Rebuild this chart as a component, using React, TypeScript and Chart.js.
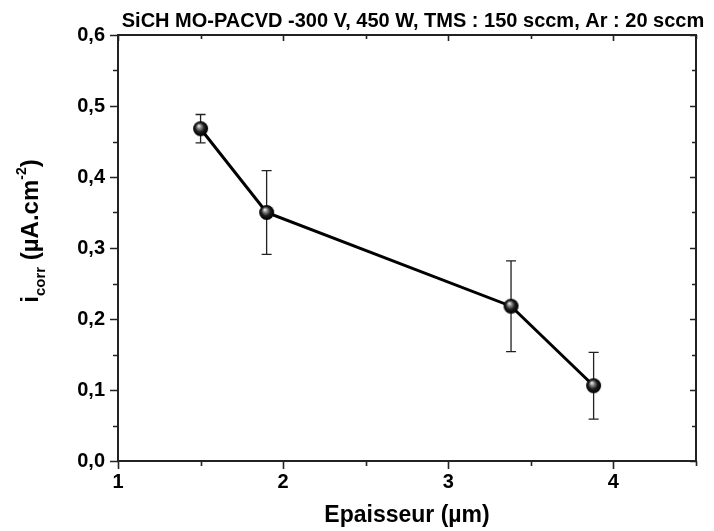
import React, { useEffect, useRef } from 'react';
import { Chart, registerables } from 'chart.js';

Chart.register(...registerables);

// ---- data ----
const thickness = [1.5, 1.9, 3.38, 3.88];
const icorr = [0.468, 0.35, 0.218, 0.106];
const icorrErr = [0.02, 0.059, 0.064, 0.047];

const chartTitle = 'SiCH MO-PACVD -300 V, 450 W, TMS : 150 sccm, Ar : 20 sccm';
const xTitle = 'Epaisseur (\u00b5m)';
const yTitleParts = [
  { text: 'i', kind: 'main' },
  { text: 'corr', kind: 'sub' },
  { text: ' (\u00b5A.cm', kind: 'main' },
  { text: '-2', kind: 'sup' },
  { text: ')', kind: 'main' },
];

const xMin = 1;
const xMax = 4.5;
const yMin = 0;
const yMax = 0.6;

const FONT = '"Liberation Sans", Arial, Helvetica, sans-serif';

function makeSphere(r: number): HTMLCanvasElement {
  const c = document.createElement('canvas');
  const s = r * 2 + 2;
  c.width = s;
  c.height = s;
  const g = c.getContext('2d')!;
  const cx = s / 2;
  const cy = s / 2;
  const grad = g.createRadialGradient(cx - r * 0.25, cy - r * 0.4, 0.3, cx, cy, r);
  grad.addColorStop(0, '#f0f0f0');
  grad.addColorStop(0.25, '#8a8a8a');
  grad.addColorStop(0.6, '#1a1a1a');
  grad.addColorStop(1, '#000');
  g.fillStyle = grad;
  g.beginPath();
  g.arc(cx, cy, r, 0, Math.PI * 2);
  g.fill();
  return c;
}

const errorBarPlugin = {
  id: 'errorBars',
  beforeDatasetsDraw(chart: any) {
    const { ctx, scales } = chart;
    const x = scales.x;
    const y = scales.y;
    ctx.save();
    ctx.strokeStyle = '#222';
    ctx.lineWidth = 1.3;
    for (let i = 0; i < thickness.length; i++) {
      const px = x.getPixelForValue(thickness[i]);
      const top = y.getPixelForValue(icorr[i] + icorrErr[i]);
      const bot = y.getPixelForValue(icorr[i] - icorrErr[i]);
      ctx.beginPath();
      ctx.moveTo(px, top);
      ctx.lineTo(px, bot);
      ctx.moveTo(px - 5, top);
      ctx.lineTo(px + 5, top);
      ctx.moveTo(px - 5, bot);
      ctx.lineTo(px + 5, bot);
      ctx.stroke();
    }
    ctx.restore();
  },
};

const framePlugin = {
  id: 'frame',
  afterDraw(chart: any) {
    const { ctx, chartArea: a, scales } = chart;
    const x = scales.x;
    const y = scales.y;
    ctx.save();
    ctx.strokeStyle = '#222';
    ctx.lineWidth = 2;
    ctx.strokeRect(a.left, a.top, a.right - a.left, a.bottom - a.top);
    ctx.lineWidth = 1.6;
    ctx.beginPath();
    for (let k = 0; xMin + k * 0.5 <= xMax + 1e-9; k++) {
      const v = xMin + k * 0.5;
      const px = Math.round(x.getPixelForValue(v)) + 0.5;
      const major = k % 2 === 0;
      const len = major ? 8 : 5;
      ctx.moveTo(px, a.bottom);
      ctx.lineTo(px, a.bottom + len);
      ctx.moveTo(px, a.top);
      ctx.lineTo(px, a.top + (major ? 6 : 4));
    }
    for (let k = 0; yMin + k * 0.05 <= yMax + 1e-9; k++) {
      const v = yMin + k * 0.05;
      const py = Math.round(y.getPixelForValue(v)) + 0.5;
      const major = k % 2 === 0;
      const len = major ? 8 : 5;
      ctx.moveTo(a.left, py);
      ctx.lineTo(a.left - len, py);
      ctx.moveTo(a.right, py);
      ctx.lineTo(a.right - (major ? 6 : 4), py);
    }
    ctx.stroke();

    ctx.fillStyle = '#000';
    ctx.font = `bold 20px ${FONT}`;
    ctx.textAlign = 'center';
    ctx.textBaseline = 'alphabetic';
    ctx.fillText(chartTitle, (a.left + a.right) / 2 + 6, 27);

    ctx.font = `bold 23px ${FONT}`;
    ctx.fillText(xTitle, (a.left + a.right) / 2, 522);

    const fonts: Record<string, string> = {
      main: `bold 24px ${FONT}`,
      sub: `bold 15px ${FONT}`,
      sup: `bold 14px ${FONT}`,
    };
    const offs: Record<string, number> = { main: 0, sub: 7, sup: -12 };
    let total = 0;
    const widths = yTitleParts.map((p) => {
      ctx.font = fonts[p.kind];
      const w = ctx.measureText(p.text).width;
      total += w;
      return w;
    });
    ctx.translate(38, (a.top + a.bottom) / 2 - 17);
    ctx.rotate(-Math.PI / 2);
    ctx.textAlign = 'left';
    let cx = -total / 2;
    yTitleParts.forEach((p, i) => {
      ctx.font = fonts[p.kind];
      ctx.fillText(p.text, cx, offs[p.kind]);
      cx += widths[i];
    });
    ctx.restore();
  },
};

export default function App() {
  const ref = useRef<HTMLCanvasElement | null>(null);
  useEffect(() => {
    if (!ref.current) return;
    const sphere = makeSphere(7.5);
    const chart = new Chart(ref.current, {
      type: 'scatter',
      data: {
        datasets: [
          {
            data: thickness.map((t, i) => ({ x: t, y: icorr[i] })),
            showLine: true,
            borderColor: '#000',
            borderWidth: 3,
            pointStyle: sphere as any,
            pointRadius: 7.5,
            pointHoverRadius: 7.5,
            backgroundColor: '#000',
          },
        ],
      },
      options: {
        animation: false,
        responsive: false,
        devicePixelRatio: 1,
        events: [],
        layout: { padding: { top: 35, right: 18, left: 0, bottom: 0 } },
        plugins: {
          legend: { display: false },
          title: { display: false },
          tooltip: { enabled: false },
        },
        scales: {
          x: {
            type: 'linear',
            min: xMin,
            max: xMax,
            grid: { display: false, drawTicks: false },
            border: { display: false },
            ticks: {
              stepSize: 1,
              padding: 9,
              color: '#000',
              font: { family: FONT, size: 20, weight: 'bold' },
              callback: (v: any) => (Number.isInteger(v) ? String(v) : ''),
            },
            afterFit: (s: any) => {
              s.height = 70;
            },
          },
          y: {
            type: 'linear',
            min: yMin,
            max: yMax,
            grid: { display: false, drawTicks: false },
            border: { display: false },
            ticks: {
              stepSize: 0.1,
              padding: 13,
              color: '#000',
              font: { family: FONT, size: 20, weight: 'bold' },
              callback: (v: any) => Number(v).toFixed(1).replace('.', ','),
            },
            afterFit: (s: any) => {
              s.width = 118;
            },
          },
        },
      },
      plugins: [errorBarPlugin, framePlugin],
    });
    return () => chart.destroy();
  }, []);
  return (
    <div style={{ position: 'fixed', left: 0, top: 0, width: 714, height: 531, background: '#fff' }}>
      <canvas ref={ref} width={714} height={531} style={{ display: 'block' }} />
    </div>
  );
}
